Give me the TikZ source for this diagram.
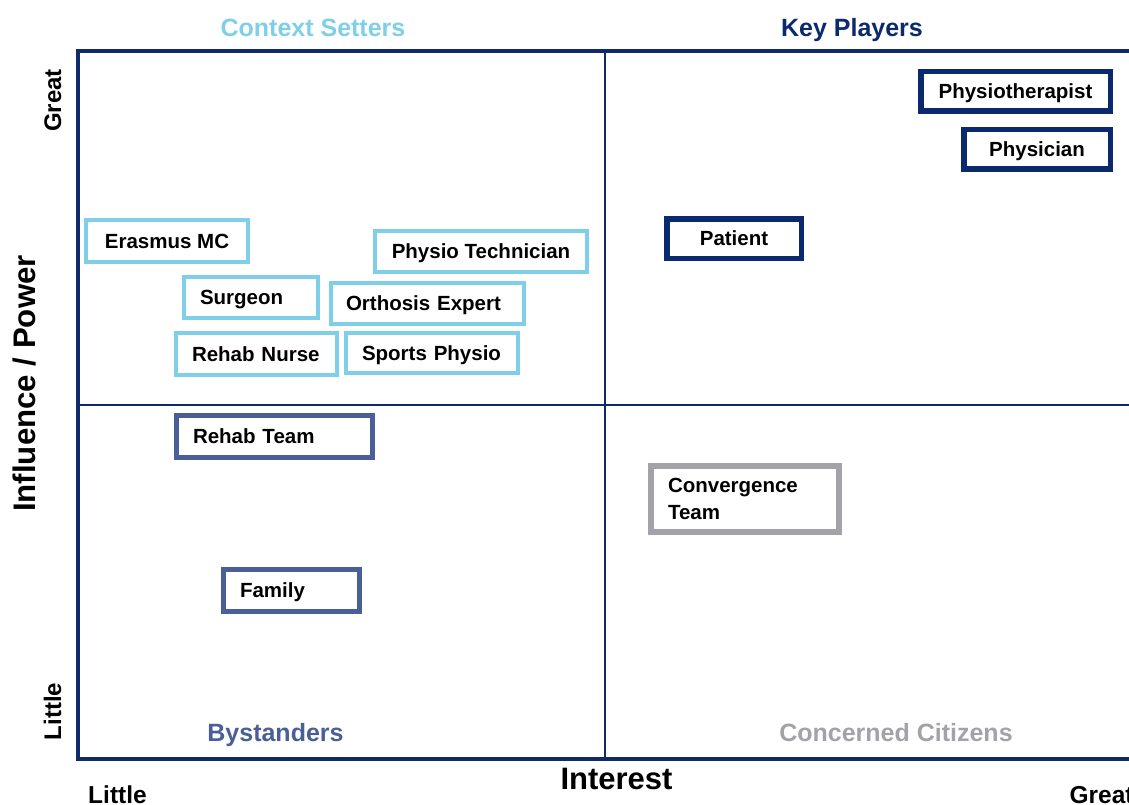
\documentclass[tikz,border=0pt]{standalone}
\usepackage{fontspec}
\setmainfont{Liberation Sans}
\usepackage{tikz}
\usetikzlibrary{positioning}

\definecolor{framenavy}{HTML}{0E2A6B}
\definecolor{keynavy}{HTML}{0B2A6E}
\definecolor{ctxblue}{HTML}{80CFE8}
\definecolor{bysblue}{HTML}{4A5E97}
\definecolor{citgray}{HTML}{A2A2A8}

\begin{document}
\begin{tikzpicture}[
    x=1pt, y=-1pt,
    boxfont/.style={font=\fontsize{20.5}{27}\selectfont\bfseries},
    stake/.style={boxfont, draw, fill=white, inner xsep=0pt, inner ysep=0pt,
        text height=14.7pt, text depth=0pt},
    keybox/.style={stake, draw=keynavy, line width=5.5pt},
    ctxbox/.style={stake, draw=ctxblue, line width=4pt},
    bysbox/.style={stake, draw=bysblue, line width=5pt},
    citbox/.style={stake, draw=citgray, line width=6pt},
    quadtitle/.style={font=\fontsize{25}{30}\selectfont\bfseries, anchor=base},
    axislabel/.style={font=\fontsize{24.5}{30}\selectfont\bfseries, anchor=base}
]
    \useasboundingbox (0,0) rectangle (1129,805);

    % grid
    \coordinate (tl) at (78,51);
    \coordinate (tr) at (1129,51);
    \coordinate (bl) at (78,759);
    \coordinate (br) at (1129,759);
    \coordinate (mt) at (605,51);
    \coordinate (mb) at (605,759);
    \coordinate (ml) at (78,405);
    \coordinate (mr) at (1129,405);
    \draw[framenavy, line width=2pt] (mt) -- (mb);
    \draw[framenavy, line width=2pt] (ml) -- (mr);
    \draw[framenavy, line width=3.5pt] (tr) -- (tl) -- (bl) -- (br);

    % quadrant titles
    \node[quadtitle, text=ctxblue] (ctxtitle) at (313,37) {Context Setters};
    \node[quadtitle, text=keynavy] (keytitle) at (852,37) {Key Players};
    \node[quadtitle, text=bysblue] (bystitle) at (275.5,741) {Bystanders};
    \node[quadtitle, text=citgray] (cittitle) at (896,741) {Concerned Citizens};

    % axes
    \node[axislabel, rotate=90, font=\fontsize{24}{30}\selectfont\bfseries] (ygreat) at (61,100.5) {Great};
    \node[axislabel, rotate=90, font=\fontsize{24}{30}\selectfont\bfseries] (ylittle) at (61,711.5) {Little};
    \node[axislabel, rotate=90, font=\fontsize{31.2}{36}\selectfont\bfseries] (yaxis) at (35.5,383.5) {Influence / Power};
    \node[axislabel, font=\fontsize{31}{36}\selectfont\bfseries] (xaxis) at (616.5,789.5) {Interest};
    \node[axislabel] (xlittle) at (117.5,803) {Little};
    \node[axislabel, anchor=base west] (xgreat) at (1066,803) {Great};

    % key players
    \node[keybox, minimum width=189.5, minimum height=39.5] (physio) at (1015.5,91.5) {Physiotherapist};
    \node[keybox, minimum width=146.5, minimum height=39.5] (physician) at (1037,149.5) {Physician};
    \node[keybox, minimum width=134.5, minimum height=39.5] (patient) at (734,238.5) {Patient};

    % context setters
    \node[ctxbox, minimum width=162, minimum height=42] (erasmus) at (167,241) {Erasmus MC};
    \node[ctxbox, minimum width=212, minimum height=41] (technician) at (481,251.5) {Physio Technician};
    \node[ctxbox, minimum width=134, minimum height=41, text width=102, align=left] (surgeon) at (251,297.5) {Surgeon};
    \node[ctxbox, minimum width=193, minimum height=41, text width=163, align=left] (orthosis) at (427.5,303.5) {Orthosis Expert};
    \node[ctxbox, minimum width=161, minimum height=42, text width=129, align=left] (nurse) at (256.5,354) {Rehab Nurse};
    \node[ctxbox, minimum width=172, minimum height=40, text width=140, align=left] (sports) at (432,353) {Sports Physio};

    % bystanders
    \node[bysbox, minimum width=196, minimum height=42, text width=163, align=left] (rehabteam) at (274.5,436.5) {Rehab Team};
    \node[bysbox, minimum width=136, minimum height=42, text width=103, align=left] (family) at (291.5,590.5) {Family};

    % concerned citizens
    \node[citbox, minimum width=188, minimum height=66, text width=154, align=left, text depth=27pt] (convergence) at (745,499) {Convergence\\Team};
\end{tikzpicture}
\end{document}
